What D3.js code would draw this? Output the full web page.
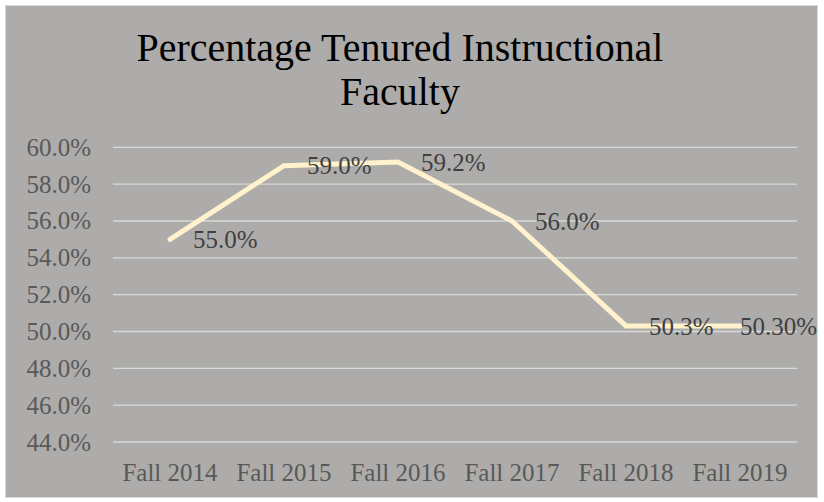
<!DOCTYPE html>
<html>
<head>
<meta charset="utf-8">
<script src="https://cdn.jsdelivr.net/npm/d3@7"></script>
<style>
  body { margin: 0; background: #fff; }
  text { font-family: 'Liberation Serif', serif; }
</style>
</head>
<body>
<div id="chart"></div>
<script>
var w = 824;
var h = 502;

var categories = ['Fall 2014', 'Fall 2015', 'Fall 2016', 'Fall 2017', 'Fall 2018', 'Fall 2019'];
var values = [0.55, 0.59, 0.592, 0.56, 0.503, 0.503];
var labels = ['55.0%', '59.0%', '59.2%', '56.0%', '50.3%', '50.30%'];
var yTicks = [0.44, 0.46, 0.48, 0.50, 0.52, 0.54, 0.56, 0.58, 0.60];
var titleLines = ['Percentage Tenured Instructional', 'Faculty'];

var svg = d3.select('#chart')
  .append('svg')
  .attr('width', w)
  .attr('height', h);

// chart area
svg.append('rect')
  .attr('x', 5.5)
  .attr('y', 5.5)
  .attr('width', 812)
  .attr('height', 492)
  .attr('fill', '#adacaa')
  .attr('stroke', '#d9d9d9');

var x = d3.scaleBand()
  .domain(categories)
  .range([113, 797]);

var y = d3.scaleLinear()
  .domain([0.44, 0.60])
  .range([442, 147.3]);

// title
var title = svg.append('text')
  .attr('text-anchor', 'middle')
  .attr('fill', '#000')
  .style('font-size', '36px');
title.selectAll('tspan')
  .data(titleLines)
  .enter()
  .append('tspan')
  .attr('x', 400)
  .attr('y', function (d, i) { return 61 + i * 44; })
  .text(function (d) { return d; });
// fit first line to the width seen in the picture
var firstLen = title.select('tspan').node().getComputedTextLength();
title.style('font-size', (36 * 527 / firstLen) + 'px');

// gridlines
svg.selectAll('line.grid')
  .data(yTicks)
  .enter()
  .append('line')
  .attr('class', 'grid')
  .attr('x1', 113)
  .attr('x2', 797)
  .attr('y1', function (d) { return y(d); })
  .attr('y2', function (d) { return y(d); })
  .attr('stroke', '#d9d9d9')
  .attr('stroke-width', 1.3);

// y axis
var yAxis = svg.append('g')
  .attr('transform', 'translate(113,0)')
  .call(d3.axisLeft(y).tickValues(yTicks).tickFormat(d3.format('.1%')).tickSize(0).tickPadding(22));
yAxis.select('.domain').remove();
yAxis.selectAll('text')
  .attr('fill', '#595959')
  .style('font-size', '25px')
  .style('font-family', 'Liberation Serif');

// x axis
var xAxis = svg.append('g')
  .attr('transform', 'translate(0,442)')
  .call(d3.axisBottom(x).tickSize(0).tickPadding(21));
xAxis.select('.domain').remove();
xAxis.selectAll('text')
  .attr('fill', '#595959')
  .style('font-size', '25px')
  .style('font-family', 'Liberation Serif');

var cx = function (d, i) { return x(categories[i]) + x.bandwidth() / 2; };

// line
var line = d3.line()
  .x(function (d, i) { return cx(d, i); })
  .y(function (d) { return y(d); });

svg.append('path')
  .datum(values)
  .attr('d', line)
  .attr('fill', 'none')
  .attr('stroke', '#fff2cc')
  .attr('stroke-width', 5)
  .attr('stroke-linecap', 'round')
  .attr('stroke-linejoin', 'miter');

// data labels
svg.selectAll('text.label')
  .data(values)
  .enter()
  .append('text')
  .attr('class', 'label')
  .attr('fill', '#404040')
  .style('font-size', '25px')
  .attr('dy', '0.35em')
  .attr('y', function (d) { return y(d); })
  .text(function (d, i) { return labels[i]; })
  .attr('x', function (d, i) {
    var tw = this.getComputedTextLength();
    return Math.min(cx(d, i) + 23, 817 - tw);
  });
</script>
</body>
</html>
